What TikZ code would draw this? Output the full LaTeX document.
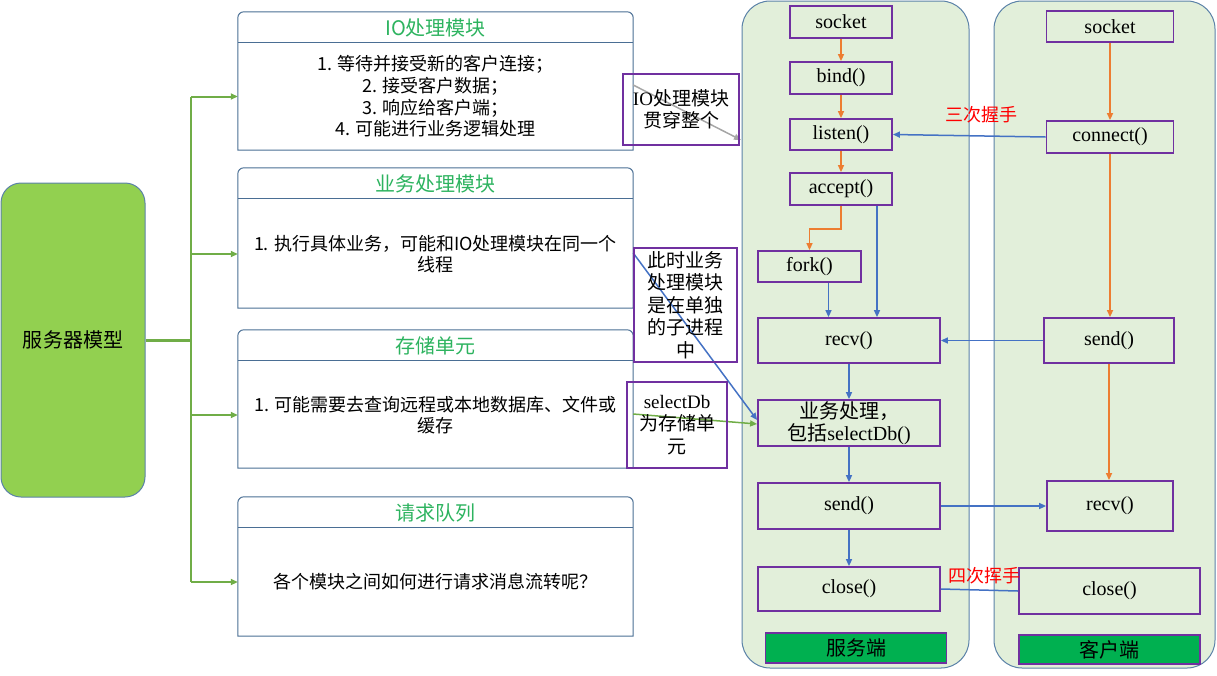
\documentclass[tikz,border=0pt]{standalone}
\usepackage{fontspec}
\setmainfont{Liberation Serif}
\newfontfamily\cjk{Noto Sans CJK SC}
\usetikzlibrary{arrows.meta}
\definecolor{purp}{HTML}{7030A0}
\definecolor{colfill}{HTML}{E2EFDA}
\definecolor{colline}{HTML}{5B82A8}
\definecolor{panline}{HTML}{4A6E94}
\definecolor{srvfill}{HTML}{92D050}
\definecolor{gline}{HTML}{70AD47}
\definecolor{oline}{HTML}{ED7D31}
\definecolor{bline}{HTML}{4472C4}
\definecolor{labfill}{HTML}{00B050}
\definecolor{titlegreen}{HTML}{2DB35F}
\definecolor{grayline}{HTML}{A6A6A6}
\tikzset{
  fbox/.style={draw=purp, line width=1.8pt, fill=colfill, inner sep=0pt, align=center,
    font=\fontsize{20pt}{22pt}\selectfont},
  labbox/.style={draw=purp, line width=1.8pt, fill=labfill, inner sep=0pt,
    font=\cjk\fontsize{20pt}{22pt}\selectfont},
  colbox/.style={draw=colline, line width=1pt, fill=colfill, rounded corners=28pt, inner sep=0pt},
  notebox/.style={draw=purp, line width=1.8pt, inner sep=0pt, align=center,
    font=\fontsize{19pt}{22.5pt}\selectfont},
  tipA/.style={-{Triangle[length=7pt,width=6pt]}},
  oarrow/.style={draw=oline, line width=1.5pt, tipA},
  barrow/.style={draw=bline, line width=1.5pt, tipA},
  garrow/.style={draw=gline, line width=2pt, tipA},
  redlab/.style={text=red, inner sep=0pt, font=\cjk\fontsize{18pt}{20pt}\selectfont},
  ptitle/.style={text=titlegreen, inner sep=0pt, font=\cjk\fontsize{20pt}{22pt}\selectfont},
  pbody/.style={inner sep=0pt, align=center, minimum width=395pt, font=\cjk\fontsize{18pt}{21.7pt}\selectfont},
}
% name, centre y, height, body centre y, title, body
\newcommand\mkpanel[6]{%
  \node[draw=none, minimum width=395pt, minimum height=#3pt, inner sep=0pt] (#1) at (435.5,#2) {};
  \draw[panline, line width=1pt] (#1.south west) -- ([yshift=-6pt]#1.north west)
    arc[start angle=180,end angle=90,radius=6pt] -- ([xshift=-6pt]#1.north east)
    arc[start angle=90,end angle=0,radius=6pt] -- (#1.south east) -- cycle;
  \draw[panline, line width=1pt] ([yshift=-31pt]#1.north west) -- ([yshift=-31pt]#1.north east);
  \node[ptitle] (#1t) at ([yshift=-16pt]#1.north) {#5};
  \node[pbody] (#1b) at (435.5,#4) {#6};
}
\begin{document}
\begin{tikzpicture}[x=1pt,y=-1pt]
\useasboundingbox (0,0) rectangle (1217,675);
% columns
\node[colbox, minimum width=227pt, minimum height=667pt] (scol) at (855.5,334.5) {};
\node[colbox, minimum width=221pt, minimum height=667pt] (ccol) at (1104.5,334.5) {};
% left box
\node[draw=colline, line width=1pt, fill=srvfill, rounded corners=20pt, minimum width=144pt,
  minimum height=314pt, inner sep=0pt, font=\cjk\fontsize{20pt}{22pt}\selectfont] (srv) at (73,340) {服务器模型};
% panels
\mkpanel{p1}{81}{138}{96.5}{IO处理模块}{1. 等待并接受新的客户连接；\\2. 接受客户数据；\\3. 响应给客户端；\\4. 可能进行业务逻辑处理}
\mkpanel{p2}{238}{140}{254}{业务处理模块}{1. 执行具体业务，可能和IO处理模块在同一个\\线程}
\mkpanel{p3}{399}{138}{415}{存储单元}{1. 可能需要去查询远程或本地数据库、文件或\\缓存}
\mkpanel{p4}{566.5}{139}{582}{请求队列}{各个模块之间如何进行请求消息流转呢？}
% tree connectors
\coordinate (jn) at (191,340);
\coordinate (busT) at (191,96.5);
\draw[gline, line width=3pt] (srv.east) -- (jn);
\draw[gline, line width=2pt] (busT |- p1b.west) -- (busT |- p4b.west);
\draw[garrow] (busT |- p1b.west) -- (p1b.west);
\draw[garrow] (busT |- p2b.west) -- (p2b.west);
\draw[garrow] (busT |- p3b.west) -- (p3b.west);
\draw[garrow] (busT |- p4b.west) -- (p4b.west);
% server boxes
\node[fbox, minimum width=102pt, minimum height=32pt] (ssock) at (841,22) {socket};
\node[fbox, minimum width=102pt, minimum height=32pt] (sbind) at (841,78) {bind()};
\node[fbox, minimum width=102pt, minimum height=31pt] (slis) at (841,134.5) {listen()};
\node[fbox, minimum width=102pt, minimum height=32pt] (sacc) at (841,189) {accept()};
\node[fbox, minimum width=103pt, minimum height=31pt] (sfork) at (809.5,266.5) {fork()};
\node[fbox, minimum width=182pt, minimum height=45pt] (srecv) at (849,340.5) {recv()};
\node[fbox, minimum width=182pt, minimum height=46pt] (sbiz) at (849,423) {{\cjk 业务处理，}\\{\cjk 包括}selectDb()};
\node[fbox, minimum width=182pt, minimum height=46pt] (ssend) at (849,506) {send()};
\node[fbox, minimum width=182pt, minimum height=44pt] (sclose) at (849,589) {close()};
\node[labbox, minimum width=181pt, minimum height=30pt] (slab) at (856,648) {服务端};
% client boxes
\node[fbox, minimum width=127pt, minimum height=31pt] (csock) at (1110,26.5) {socket};
\node[fbox, minimum width=127pt, minimum height=32pt] (cconn) at (1110,137) {connect()};
\node[fbox, minimum width=130pt, minimum height=45pt] (csend) at (1109,340.5) {send()};
\node[fbox, minimum width=126pt, minimum height=50pt] (crecv) at (1110,506) {recv()};
\node[fbox, minimum width=181pt, minimum height=46pt] (cclose) at (1109.5,591) {close()};
\node[labbox, minimum width=181pt, minimum height=29pt] (clab) at (1109.5,649.5) {客户端};
% server flow
\draw[oarrow] (ssock) -- (sbind);
\draw[oarrow] (sbind) -- (slis);
\draw[oarrow] (slis) -- (sacc);
\draw[oarrow] (sacc.south) -- ++(0,23) -| (sfork.north);
\coordinate (acco) at ([xshift=36pt]sacc.south);
\coordinate (forko) at ([xshift=19pt]sfork.south);
\draw[barrow] (acco) -- (acco |- srecv.north);
\draw[barrow] (forko) -- (forko |- srecv.north);
\draw[barrow] (srecv) -- (sbiz);
\draw[barrow] (sbiz) -- (ssend);
\draw[barrow] (ssend) -- (sclose);
% client flow
\draw[oarrow] (csock) -- (cconn);
\draw[oarrow] (cconn.south) -- (cconn.south |- csend.north);
\draw[oarrow] (csend.south) -- (csend.south |- crecv.north);
% cross links
\draw[barrow] (cconn.west) -- (slis.east);
\draw[barrow] (csend.west) -- (srecv.east);
\draw[barrow] (ssend.east) -- (crecv.west);
\draw[draw=bline, line width=1.5pt] (sclose.east) -- (cclose.west);
\node[redlab] (hs3) at (981,115) {三次握手};
\node[redlab] (hs4) at (984,576) {四次挥手};
% annotation connectors
\coordinate (gtip) at (741,140);
\draw[draw=grayline, line width=1.5pt, tipA] ([yshift=-4pt]p1.east) -- (gtip);
\draw[barrow] ([yshift=-15pt]p2.east) -- ([yshift=3pt]sbiz.west);
\draw[draw=gline, line width=1.5pt, tipA] ([yshift=-15pt]p3.east) -- ([yshift=-1pt]sbiz.west);
% annotation boxes
\node[notebox, minimum width=116pt, minimum height=71pt] (a1) at (681,109.5) {IO{\cjk 处理模块}\\{\cjk 贯穿整个}};
\node[notebox, minimum width=103pt, minimum height=114pt, font=\cjk\fontsize{19pt}{22.5pt}\selectfont] (a2) at (685.5,305) {此时业务\\处理模块\\是在单独\\的子进程\\中};
\node[notebox, minimum width=100pt, minimum height=86pt] (a3) at (677,425) {selectDb\\{\cjk 为存储单}\\{\cjk 元}};
\end{tikzpicture}
\end{document}
